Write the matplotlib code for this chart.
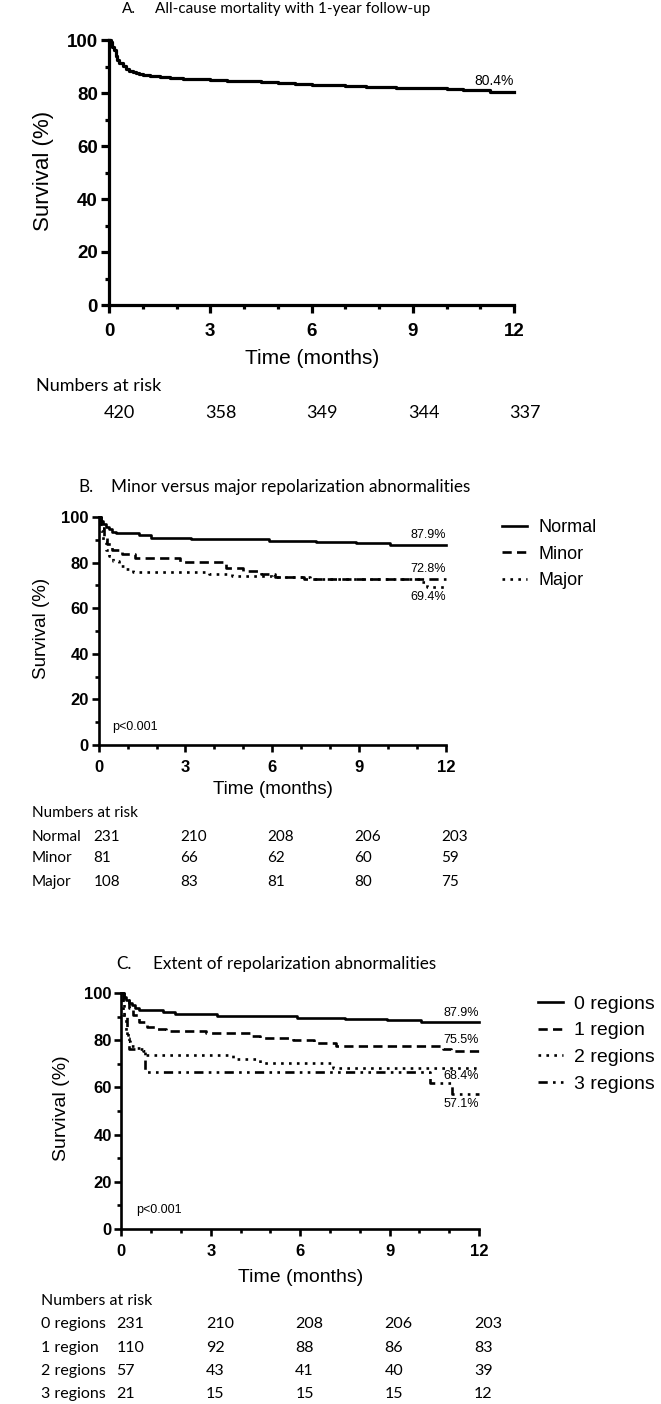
import matplotlib
matplotlib.use("Agg")
import matplotlib.pyplot as plt
from matplotlib.transforms import blended_transform_factory, offset_copy
from matplotlib.ticker import MultipleLocator

W, H = 661, 1404

# ---- data ----
months = [0, 3, 6, 9, 12]

# A. all-cause mortality
t_all = [0, 0.05, 0.1, 0.15, 0.2, 0.25, 0.3, 0.4, 0.5, 0.6, 0.7, 0.8, 0.9, 1.0, 1.2, 1.5, 1.8, 2.2,
         3.0, 3.5, 4.0, 4.5, 5.0, 5.5, 6.0, 6.5, 7.0, 7.6, 8.5, 9.3, 10.0, 10.5, 11.0, 11.3, 12]
s_all = [100, 99.3, 97.5, 96.4, 94.0, 92.6, 91.5, 90.2, 89.2, 88.4, 87.8, 87.4, 87.0, 86.7, 86.3, 85.9,
         85.5, 85.2, 85.0, 84.7, 84.4, 84.1, 83.8, 83.5, 83.2, 83.0, 82.7, 82.2, 82.0, 81.8, 81.6,
         81.3, 81.0, 80.4, 80.4]
risk_all = [420, 358, 349, 344, 337]

# B. minor vs major
t_normal = [0, 0.08, 0.15, 0.25, 0.35, 0.45, 0.6, 1.4, 1.8, 3.2, 5.9, 7.5, 8.9, 10.05, 12]
s_normal = [100, 98.3, 97.0, 95.8, 94.8, 93.6, 92.8, 92.0, 91.0, 90.2, 89.6, 89.0, 88.5, 87.9, 87.9]
t_minor = [0, 0.1, 0.2, 0.3, 0.45, 0.8, 1.25, 2.8, 4.4, 5.0, 5.6, 6.1, 7.1, 12]
s_minor = [100, 95.0, 91.5, 88.3, 85.5, 83.8, 81.8, 80.2, 77.8, 76.3, 75.0, 73.8, 72.8, 72.8]
t_major = [0, 0.08, 0.15, 0.25, 0.35, 0.5, 0.7, 0.95, 1.2, 3.8, 4.6, 6.0, 7.3, 11.1, 11.35, 12]
s_major = [100, 94.0, 89.0, 85.5, 83.0, 80.5, 78.5, 77.0, 76.0, 75.1, 74.2, 73.5, 72.8, 71.5, 69.4, 69.4]
groups_b = ["Normal", "Minor", "Major"]
end_b = ["87.9%", "72.8%", "69.4%"]
risk_b = [[231, 210, 208, 206, 203],
          [81, 66, 62, 60, 59],
          [108, 83, 81, 80, 75]]

# C. extent
t_r0 = t_normal
s_r0 = s_normal
t_r1 = [0, 0.1, 0.25, 0.4, 0.6, 0.85, 1.15, 1.5, 2.85, 4.35, 4.65, 5.75, 6.45, 7.2, 10.8, 11.05, 12]
s_r1 = [100, 97.0, 93.5, 90.7, 87.9, 85.8, 84.8, 84.0, 83.0, 81.9, 80.9, 80.2, 78.8, 77.6, 76.2, 75.5, 75.5]
t_r2 = [0, 0.06, 0.17, 0.22, 0.28, 0.5, 0.73, 0.84, 3.75, 4.65, 7.1, 12]
s_r2 = [100, 90.7, 83.7, 79.5, 77.6, 76.7, 75.3, 73.8, 72.0, 70.3, 68.4, 68.4]
t_r3 = [0, 0.04, 0.1, 0.18, 0.25, 0.8, 10.35, 11.1, 12]
s_r3 = [100, 95.2, 90.5, 81.0, 76.2, 66.7, 61.9, 57.1, 57.1]
groups_c = ["0 regions", "1 region", "2 regions", "3 regions"]
end_c = ["87.9%", "75.5%", "68.4%", "57.1%"]
risk_c = [[231, 210, 208, 206, 203],
          [110, 92, 88, 86, 83],
          [57, 43, 41, 40, 39],
          [21, 15, 15, 15, 12]]

ARIAL = "Liberation Sans"
CAL = "Lato"
styles = ["-", (0, (3.5, 2)), (0, (1, 2)), (0, (3.5, 2, 1, 2, 1, 2))]

fig = plt.figure(figsize=(W / 100, H / 100), dpi=100)


def rect(x0, x1, y0, y1):
    return [x0 / W, 1 - y1 / H, (x1 - x0) / W, (y1 - y0) / H]


def fx(x):
    return x / W


def fy(y):
    return 1 - y / H


def style_axes(ax, lw, fs, xpad, ypad):
    ax.set_xlim(0, 12)
    ax.set_ylim(0, 100)
    ax.spines[["top", "right"]].set_visible(False)
    for s in ["left", "bottom"]:
        ax.spines[s].set_linewidth(lw)
    ax.set_xticks(months)
    ax.set_yticks(range(0, 101, 20))
    ax.xaxis.set_minor_locator(MultipleLocator(1))
    ax.yaxis.set_minor_locator(MultipleLocator(10))
    ax.tick_params(which="major", direction="out", length=5, width=lw)
    ax.tick_params(which="minor", direction="out", length=3, width=lw)
    ax.tick_params(axis="x", pad=xpad)
    ax.tick_params(axis="y", pad=ypad)
    for lab in ax.get_xticklabels() + ax.get_yticklabels():
        lab.set_fontfamily(ARIAL)
        lab.set_fontweight("bold")
        lab.set_fontsize(fs)
    ax.patch.set_alpha(0)


def risk_table(ax, rows, labels, y_head, y_rows, x_lab, fs):
    fig.text(fx(x_lab), fy(y_head), "Numbers at risk", family=CAL, fontsize=fs, va="center")
    tr = offset_copy(blended_transform_factory(ax.transData, fig.transFigure), fig=fig, x=-5, units="dots")
    for i, row in enumerate(rows):
        if labels:
            fig.text(fx(x_lab), fy(y_rows[i]), labels[i], family=CAL, fontsize=fs, va="center")
        for m, n in zip(months, row):
            ax.text(m, fy(y_rows[i]), str(n), transform=tr, family=CAL, fontsize=fs,
                    ha="left", va="center", clip_on=False)


# ---------------- Panel A ----------------
fig.text(fx(122), fy(9), "A.", family=CAL, fontsize=11, va="center")
fig.text(fx(155), fy(9), "All-cause mortality with 1-year follow-up", family=CAL, fontsize=11, va="center")
axA = fig.add_axes(rect(109, 514, 40, 305))
axA.plot(t_all, s_all, drawstyle="steps-post", color="black", lw=2.3, clip_on=False)
style_axes(axA, 2.3, 13.5, 7, 2)
axA.tick_params(which="major", length=6)
axA.text(12, s_all[-1], "80.4%", family=ARIAL, fontsize=10, ha="right", va="bottom",
         transform=offset_copy(axA.transData, fig=fig, y=4, units="dots"))
fig.text(fx(44), fy(171), "Survival (%)", family=ARIAL, fontsize=16, rotation=90, ha="center", va="center")
fig.text(fx(312), fy(359), "Time (months)", family=ARIAL, fontsize=15, ha="center", va="center")
risk_table(axA, [risk_all], None, 386, [413], 36, 13)

# ---------------- Panel B ----------------
fig.text(fx(78), fy(487), "B.", family=CAL, fontsize=12.3, va="center")
fig.text(fx(111), fy(487), "Minor versus major repolarization abnormalities", family=CAL, fontsize=12.3, va="center")
axB = fig.add_axes(rect(98.6, 446, 517, 745))
lines_b = []
for t, s, ls, g in zip([t_normal, t_minor, t_major], [s_normal, s_minor, s_major], styles, groups_b):
    ln, = axB.plot(t, s, drawstyle="steps-post", color="black", lw=1.9, linestyle=ls, label=g, clip_on=False)
    lines_b.append(ln)
style_axes(axB, 1.9, 12, 6, 2)
for s, lab, dy, va in zip([s_normal[-1], s_minor[-1], s_major[-1]], end_b, [4, 4, -4], ["bottom", "bottom", "top"]):
    axB.text(12, s, lab, family=ARIAL, fontsize=9, ha="right", va=va,
             transform=offset_copy(axB.transData, fig=fig, y=dy, units="dots"))
axB.text(0.04, 0.08, "p<0.001", transform=axB.transAxes, family=ARIAL, fontsize=9, va="center")
axB.legend(handles=lines_b, loc="upper left", bbox_to_anchor=(fx(502), fy(519)),
           bbox_transform=fig.transFigure, frameon=False, borderpad=0, borderaxespad=0,
           handlelength=1.4, handletextpad=0.6, labelspacing=0.53,
           prop={"family": ARIAL, "size": 13})
fig.text(fx(42), fy(628), "Survival (%)", family=ARIAL, fontsize=13.5, rotation=90, ha="center", va="center")
fig.text(fx(273), fy(790), "Time (months)", family=ARIAL, fontsize=13.5, ha="center", va="center")
risk_table(axB, risk_b, groups_b, 813, [837, 858, 882], 32, 11)

# ---------------- Panel C ----------------
fig.text(fx(116), fy(964), "C.", family=CAL, fontsize=12.3, va="center")
fig.text(fx(153), fy(964), "Extent of repolarization abnormalities", family=CAL, fontsize=12.3, va="center")
axC = fig.add_axes(rect(121.4, 479, 993, 1229))
lines_c = []
for t, s, ls, g in zip([t_r0, t_r1, t_r2, t_r3], [s_r0, s_r1, s_r2, s_r3], styles, groups_c):
    ln, = axC.plot(t, s, drawstyle="steps-post", color="black", lw=1.9, linestyle=ls, label=g, clip_on=False)
    lines_c.append(ln)
style_axes(axC, 1.9, 12, 6, 2)
for s, lab, dy, va in zip([s_r0[-1], s_r1[-1], s_r2[-1], s_r3[-1]], end_c, [3, 5, -2, -4],
                          ["bottom", "bottom", "top", "top"]):
    axC.text(12, s, lab, family=ARIAL, fontsize=9, ha="right", va=va,
             transform=offset_copy(axC.transData, fig=fig, y=dy, units="dots"))
axC.text(0.04, 0.08, "p<0.001", transform=axC.transAxes, family=ARIAL, fontsize=9, va="center")
axC.legend(handles=lines_c, loc="upper left", bbox_to_anchor=(fx(538), fy(995)),
           bbox_transform=fig.transFigure, frameon=False, borderpad=0, borderaxespad=0,
           handlelength=1.3, handletextpad=0.55, labelspacing=0.47,
           prop={"family": ARIAL, "size": 14})
fig.text(fx(61), fy(1108), "Survival (%)", family=ARIAL, fontsize=14, rotation=90, ha="center", va="center")
fig.text(fx(301), fy(1277), "Time (months)", family=ARIAL, fontsize=14, ha="center", va="center")
risk_table(axC, risk_c, groups_c, 1301, [1324, 1348, 1371, 1394], 41, 11.5)

fig.savefig("out.png", dpi=100, facecolor="white")
